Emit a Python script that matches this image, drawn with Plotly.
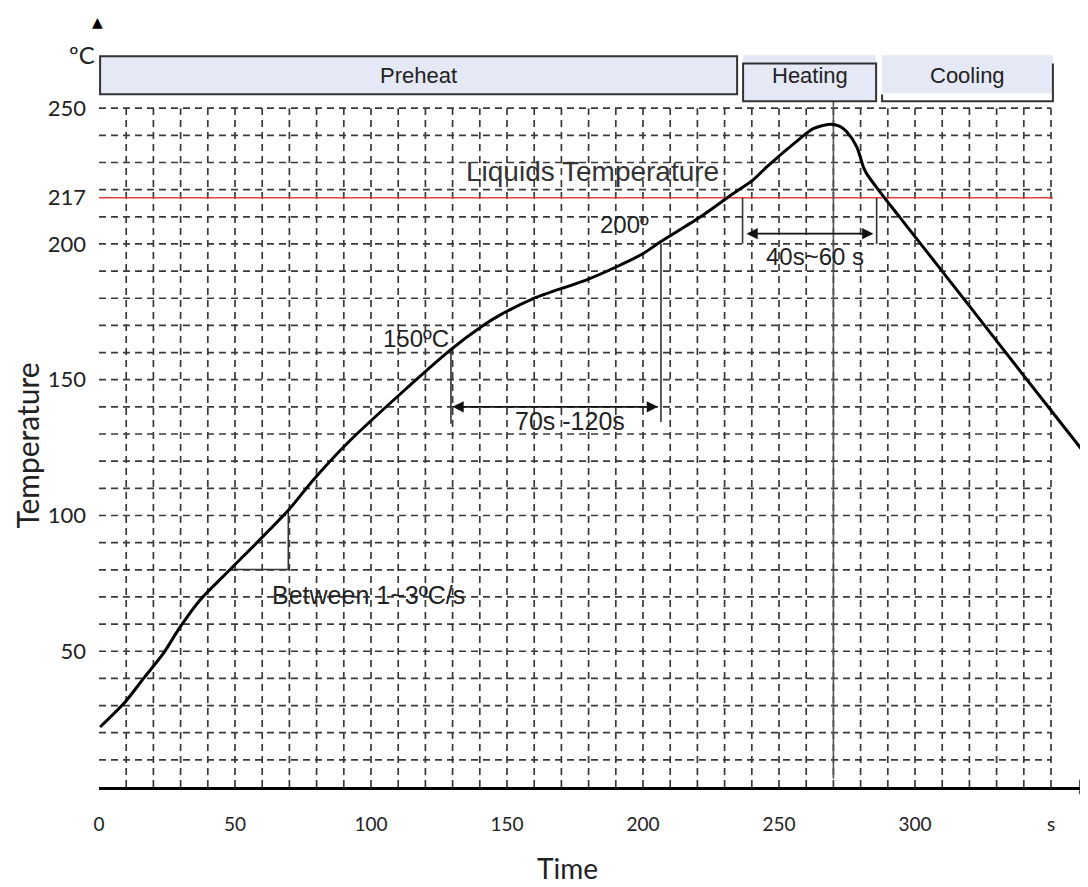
import plotly.graph_objects as go

# ---- data ----
time_s = [0.4, 9.6, 16.3, 23.6, 29.8, 37.1, 48.2, 69.6, 78.7, 92.3, 129.0, 141.2,
          147.4, 159.7, 179.3, 190.3, 200.1, 206.3, 221.0, 233.2, 240.4, 245.5,
          257.7, 262.6, 268.8, 272.4, 274.9, 278.6, 281.0, 282.2, 287.1, 294.5,
          309.8, 330.0, 349.6, 363.5]
temp_c = [22.1, 31.3, 39.9, 49.1, 58.9, 68.8, 80.1, 101.9, 113.0, 127.6, 160.8, 170.0,
          173.8, 179.9, 186.8, 191.6, 196.5, 200.7, 209.9, 218.6, 223.5, 228.4,
          238.8, 242.5, 244.1, 243.3, 241.3, 235.7, 228.4, 225.9, 219.2, 209.7,
          190.2, 164.3, 139.2, 121.5]

x_tick_vals = [0, 50, 100, 150, 200, 250, 300, 350]
x_tick_text = ["0", "50", "100", "150", "200", "250", "300", "s"]
y_tick_vals = [50, 100, 150, 200, 217, 250]
y_tick_text = ["50", "100", "150", "200", "217", "250"]

liquidus = 217
peak_time = 270
grid_x = list(range(10, 351, 10))
grid_y = list(range(10, 251, 10))

phases = ["Preheat", "Heating", "Cooling"]
phase_start = [0.4, 236.8, 287.9]
phase_end = [234.6, 285.7, 350.7]

soak_start, soak_end = 129.4, 206.6          # 150 -> 200 C window
reflow_start, reflow_end = 236.6, 285.9      # time above liquidus
ramp_t0, ramp_t1, ramp_v0, ramp_v1 = 48.2, 69.6, 80.1, 101.9

X_MAX = 363.6
Y_MAX = 286.9
GRID_C = "#3a3a3a"
INK = "#222222"


def px(t):
    return t / X_MAX


def py(v):
    return v / Y_MAX


fig = go.Figure()

# dashed grid limited to the drawn area
gx, gy = [], []
for t in grid_x:
    gx += [t, t, None]
    gy += [0, 250, None]
for v in grid_y:
    gx += [0, 350, None]
    gy += [v, v, None]
fig.add_trace(go.Scatter(x=gx, y=gy, mode="lines",
                         line=dict(color=GRID_C, width=1.7, dash="7px,5px"),
                         hoverinfo="skip", showlegend=False))

# liquidus line
fig.add_trace(go.Scatter(x=[0, 350.7], y=[liquidus, liquidus], mode="lines",
                         line=dict(color="#e8403c", width=1.6),
                         hoverinfo="skip", showlegend=False))

# helper lines
hx = [ramp_t0, ramp_t1, ramp_t1, None,
      soak_start, soak_start, None,
      soak_end, soak_end, None,
      reflow_start, reflow_start, None,
      reflow_end, reflow_end, None]
hy = [ramp_v0, ramp_v0, ramp_v1, None,
      161.6, 133.8, None,
      200.2, 134.4, None,
      liquidus, 200.1, None,
      liquidus, 200.0, None]
fig.add_trace(go.Scatter(x=hx, y=hy, mode="lines",
                         line=dict(color="#333333", width=1.6),
                         hoverinfo="skip", showlegend=False))

# peak vertical line
fig.add_trace(go.Scatter(x=[peak_time, peak_time], y=[252.5, 3], mode="lines",
                         line=dict(color="#555555", width=1.6),
                         hoverinfo="skip", showlegend=False))

# profile curve
fig.add_trace(go.Scatter(x=time_s, y=temp_c, mode="lines",
                         line=dict(color="black", width=3, shape="spline", smoothing=0.8),
                         hoverinfo="skip", showlegend=False))

# x axis arrowhead
fig.add_trace(go.Scatter(x=[361.6], y=[0], mode="markers", cliponaxis=False,
                         marker=dict(symbol="triangle-right", size=13, color="black"),
                         hoverinfo="skip", showlegend=False))

shapes = []
# phase header boxes
shapes.append(dict(type="rect", xref="x", yref="y", x0=phase_start[0], x1=phase_end[0],
                   y0=255.1, y1=269.1, fillcolor="#e5e8f5",
                   line=dict(color="#333333", width=2), layer="above"))
shapes.append(dict(type="rect", xref="x", yref="y", x0=phase_start[1], x1=phase_end[1],
                   y0=252.6, y1=269.5, fillcolor="#e5e8f5",
                   line=dict(width=0), layer="above"))
shapes.append(dict(type="path", xref="x", yref="y",
                   path=f"M {phase_start[1]},266.5 L {phase_end[1]},266.5 L {phase_end[1]},252.6 "
                        f"L {phase_start[1]},252.6 Z",
                   line=dict(color="#333333", width=2), layer="above"))
shapes.append(dict(type="rect", xref="x", yref="y", x0=phase_start[2], x1=phase_end[2],
                   y0=255.5, y1=269.5, fillcolor="#e5e8f5",
                   line=dict(width=0), layer="above"))
shapes.append(dict(type="path", xref="x", yref="y",
                   path=f"M {phase_start[2]},255.0 L {phase_start[2]},252.6 L {phase_end[2]},252.6 "
                        f"L {phase_end[2]},266.5",
                   line=dict(color="#333333", width=2), layer="above"))

annotations = []
AF = "Liberation Sans, Arial, sans-serif"
LF = "Lato, Open Sans, sans-serif"

for name, s, e in zip(phases, phase_start, phase_end):
    annotations.append(dict(x=(s + e) / 2, y=262.0, text=name, showarrow=False,
                            font=dict(family=AF, size=22, color=INK)))


def txt(x, y, s, size=24, xanchor="center", color=INK, fam=AF):
    annotations.append(dict(x=x, y=y, text=s, showarrow=False, xanchor=xanchor,
                            font=dict(family=fam, size=size, color=color)))


txt(181.6, 226.6, "Liquids Temperature", size=28, color="#333333")
txt(116.5, 165.3, "150ºC", size=24)
txt(183.5, 207.0, "200º", size=24, xanchor="left")
txt(173.2, 134.8, "70s -120s", size=25)
txt(263.2, 195.2, "40s~60 s", size=24)
txt(98.9, 70.6, "Between 1~3ºC/s", size=25)

# texts outside the axis ranges: placed in paper units derived from the same scales
annotations.append(dict(xref="paper", yref="paper", x=px(-0.7), y=py(269.9), text="ºC",
                        showarrow=False, xanchor="right", yanchor="middle",
                        font=dict(family=LF, size=24, color=INK)))
annotations.append(dict(xref="paper", yref="paper", x=px(-0.7), y=py(281.7), text="▲",
                        showarrow=False, xanchor="center", yanchor="middle",
                        font=dict(family="DejaVu Sans", size=14, color="black")))
annotations.append(dict(xref="paper", yref="paper", x=px(-26.3), y=py(125.9),
                        text="Temperature", showarrow=False, textangle=-90,
                        xanchor="center", yanchor="middle",
                        font=dict(family=LF, size=30, color=INK)))
annotations.append(dict(xref="paper", yref="paper", x=px(172.4), y=py(-29.8),
                        text="Time", showarrow=False, xanchor="center", yanchor="middle",
                        font=dict(family=LF, size=28, color=INK)))

# double-headed arrows
for (a, b, v) in [(soak_start, 205.5, 140.0), (237.5, 284.7, 203.8)]:
    annotations.append(dict(x=b, y=v, ax=a, ay=v, xref="x", yref="y", axref="x", ayref="y",
                            text="", showarrow=True, arrowhead=2, startarrowhead=2,
                            arrowside="end+start", arrowsize=1.4, startarrowsize=1.4,
                            arrowwidth=1.6, arrowcolor="#111111"))

fig.update_layout(
    width=1080, height=879,
    margin=dict(l=91, r=0, t=0, b=100, autoexpand=False),
    paper_bgcolor="white", plot_bgcolor="white",
    shapes=shapes, annotations=annotations,
    xaxis=dict(range=[0, X_MAX], showgrid=False, zeroline=False,
               showline=True, linecolor="black", linewidth=2.5,
               tickmode="array", tickvals=x_tick_vals, ticktext=x_tick_text,
               ticks="", ticklabelstandoff=18,
               tickfont=dict(family=LF, size=19, color=INK)),
    yaxis=dict(range=[0, Y_MAX], showgrid=False, zeroline=False, showline=False,
               tickmode="array", tickvals=y_tick_vals, ticktext=y_tick_text,
               ticks="", ticklabelstandoff=12,
               tickfont=dict(family=LF, size=22, color=INK)),
    showlegend=False,
)

fig.write_html("out.html")
